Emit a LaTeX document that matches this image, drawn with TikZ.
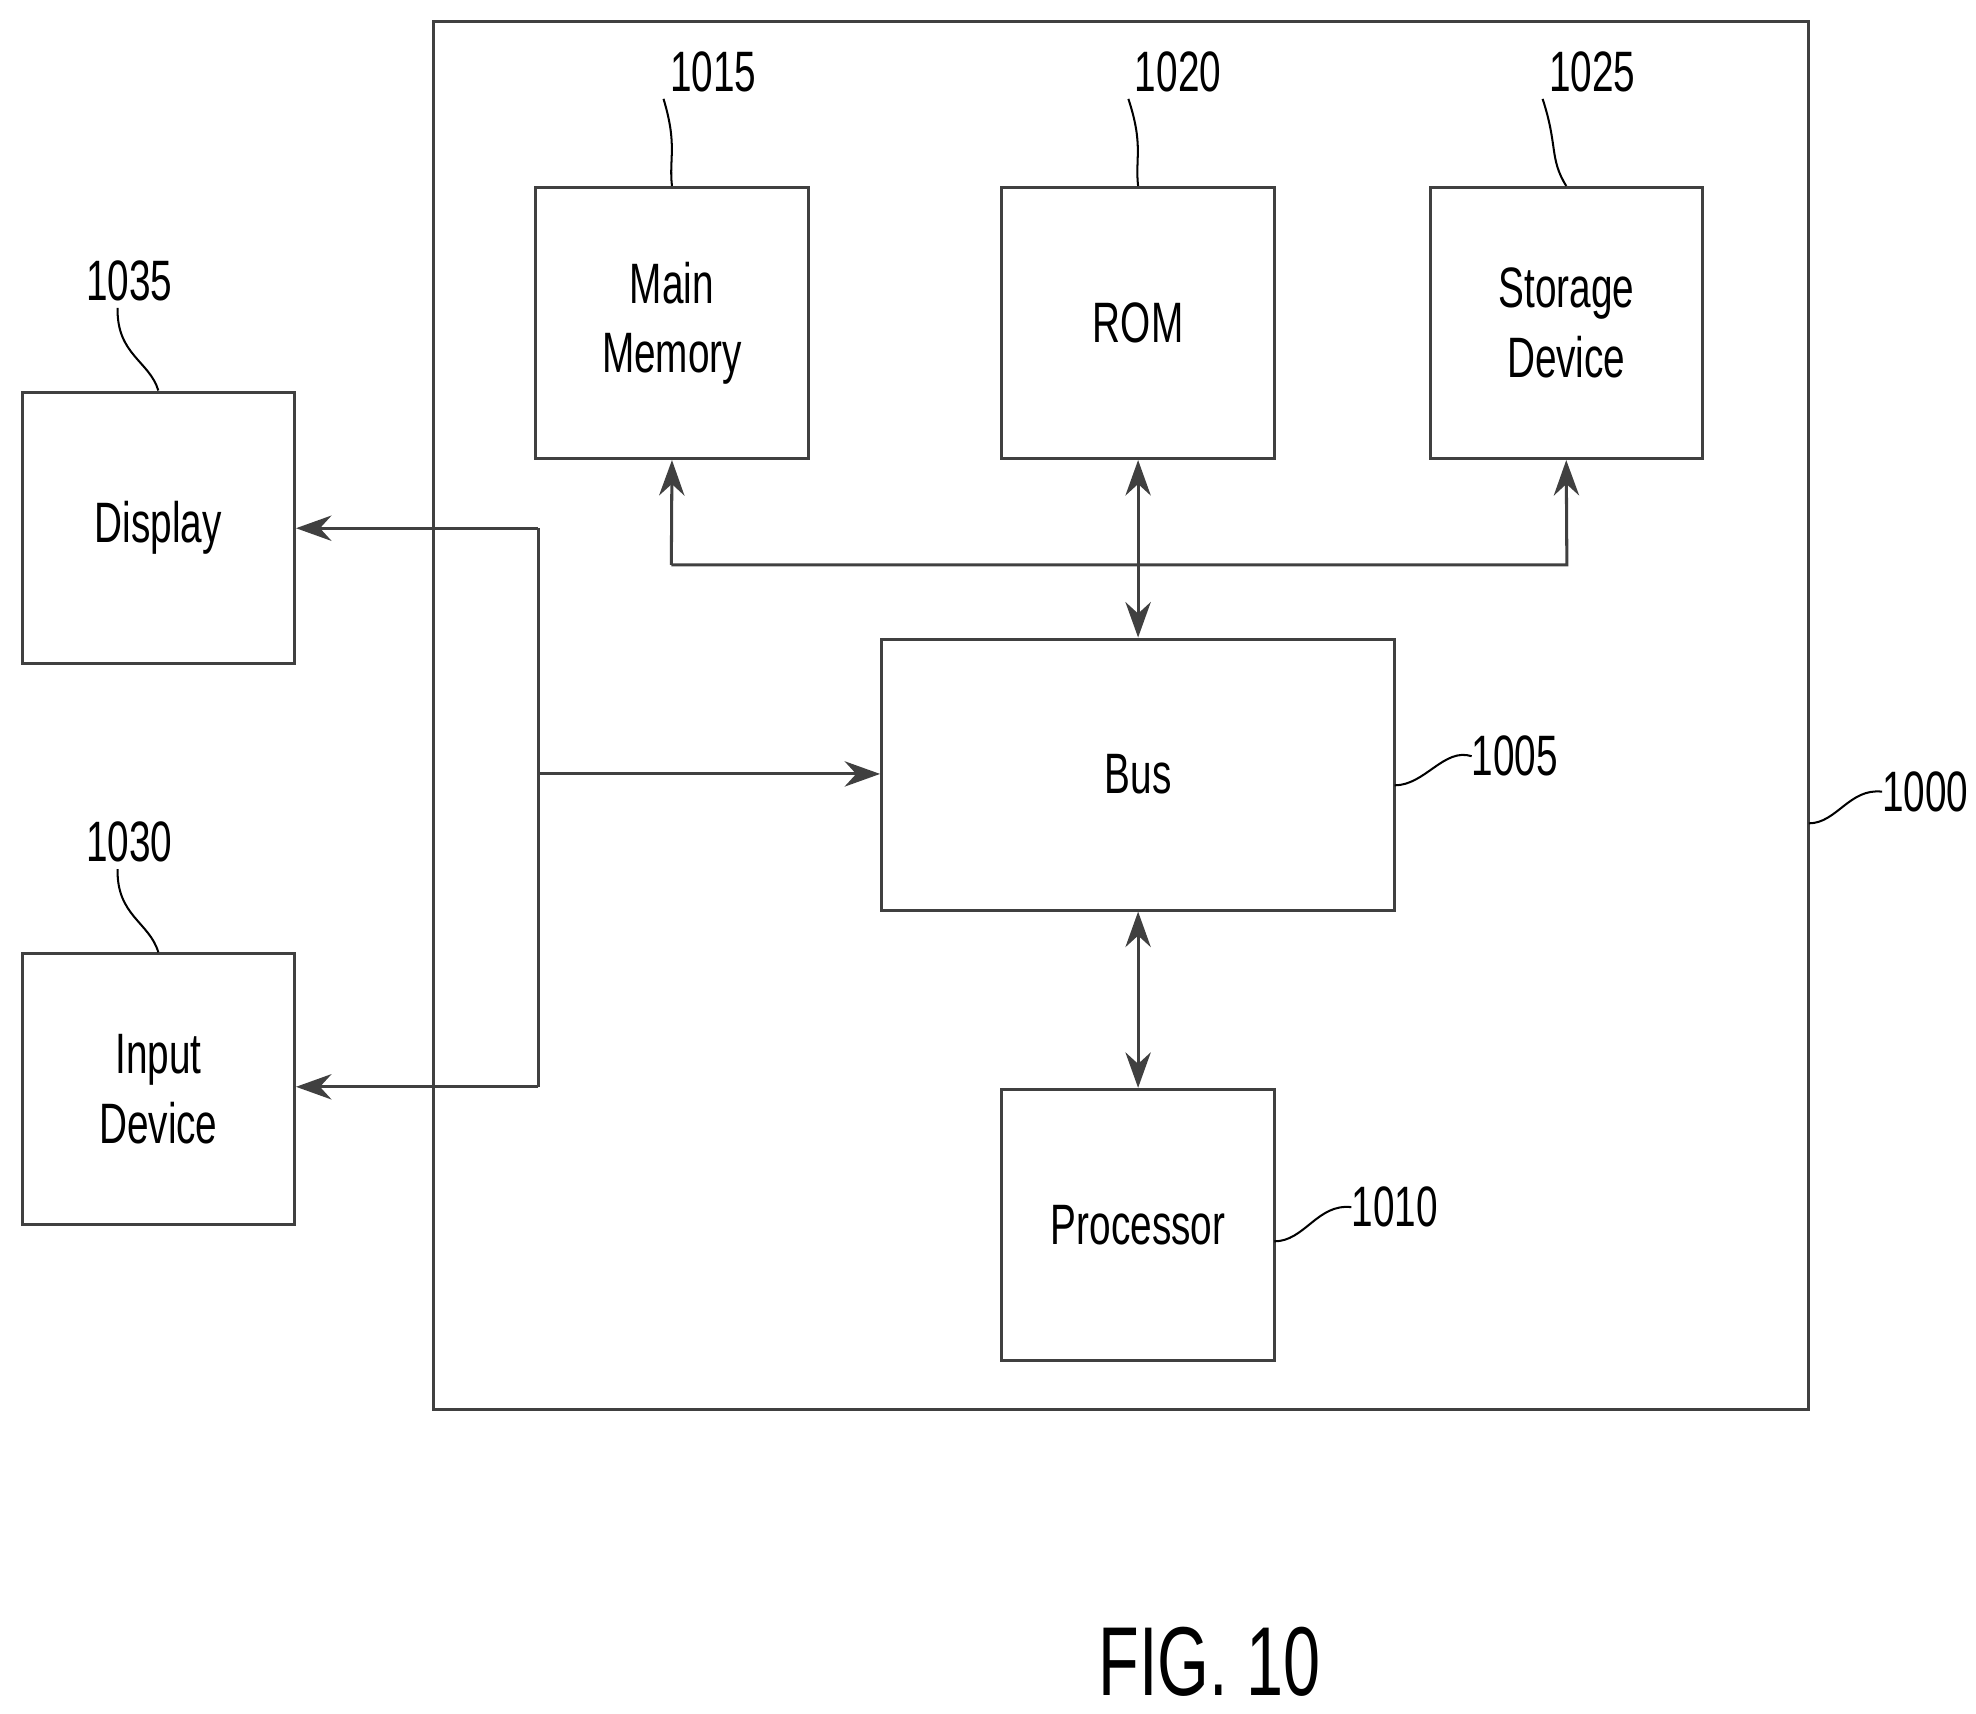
\documentclass[tikz,border=0pt]{standalone}
\usepackage{fontspec}
\setmainfont[FakeStretch=0.68]{Liberation Sans}
\usetikzlibrary{arrows.meta}
\begin{document}
\begin{tikzpicture}
        [x=0.5mm,y=-0.5mm,
         box_style/.style={draw=black!75,line width=1.2mm,minimum width=107.5mm,minimum height=107mm,
                           align=center,font=\fontsize{64}{78}\selectfont,inner sep=0pt},
         ref_style/.style={font=\fontsize{64}{78}\selectfont,inner sep=0pt},
         edge_style/.style={draw=black!75,line width=1.2mm},
         arrow_style/.style={edge_style,-{Stealth[length=14mm,width=10mm]}},
         both_style/.style={edge_style,{Stealth[length=14mm,width=10mm]}-{Stealth[length=14mm,width=10mm]}},
         lead_style/.style={draw=black,line width=0.8mm}]
            \useasboundingbox (0,0) rectangle (1560,1353);
            \draw[edge_style] (342,17) rectangle (1428,1113);
            \node[box_style] (mem) at (530.5,255)  {Main\\Memory};
            \node[box_style] (rom) at (898.5,255)  {ROM};
            \node[box_style] (sto) at (1236.5,255) {Storage\\Device};
            \node[box_style,minimum width=202.5mm] (bus) at (898.5,611.5) {Bus};
            \node[box_style] (cpu) at (898.5,967)  {Processor};
            \node[box_style] (dsp) at (125,416.5)  {Display};
            \node[box_style] (inp) at (125,860)    {Input\\Device};
            \coordinate (j1) at (530,446);
            \coordinate (j2) at (1237,446);
            \coordinate (l1) at (425,417);
            \coordinate (l2) at (425,858);
            \coordinate (l3) at (425,611);
            \draw[arrow_style] (j1) -- (mem.south);
            \draw[arrow_style] (j1) -- (j2) -- (sto.south);
            \draw[both_style]  (rom) -- (bus);
            \draw[both_style]  (bus) -- (cpu);
            \draw[edge_style]  (l1) -- (l2);
            \draw[arrow_style] (l1) -- (dsp.east |- l1);
            \draw[arrow_style] (l2) -- (inp.east |- l2);
            \draw[arrow_style] (l3) -- (bus.west |- l3);
            % reference numerals
            \node[ref_style] (n1015) at (563,57)   {1015};
            \node[ref_style] (n1020) at (930,57)   {1020};
            \node[ref_style] (n1025) at (1257,57)  {1025};
            \node[ref_style] (n1035) at (102,222)  {1035};
            \node[ref_style] (n1030) at (102,665)  {1030};
            \node[ref_style] (n1005) at (1196,597) {1005};
            \node[ref_style] (n1010) at (1101,953) {1010};
            \node[ref_style] (n1000) at (1520,625) {1000};
            \draw[lead_style] (n1015.south west) ++(-5,5) .. controls (535,115) and (528,125) .. (mem.north);
            \draw[lead_style] (n1020.south west) ++(-5,5) .. controls (903,115) and (896,125) .. (rom.north);
            \draw[lead_style] (n1025.south west) ++(-5,5) .. controls (1230,115) and (1223,125) .. (sto.north);
            \draw[lead_style] (n1035.south west) ++(25,5) .. controls (92,280) and (118,285) .. (dsp.north);
            \draw[lead_style] (n1030.south west) ++(25,5) .. controls (92,723) and (118,728) .. (inp.north);
            \draw[lead_style] (n1005.west) .. controls (1140,590) and (1125,620) .. (1101,620);
            \draw[lead_style] (n1010.west) .. controls (1040,950) and (1030,980) .. (1006,980);
            \draw[lead_style] (n1000.west) .. controls (1460,622) and (1450,650) .. (1428,650);
            \node[font=\fontsize{110}{130}\selectfont] (fig) at (955,1312) {FIG. 10};
        \end{tikzpicture}
\end{document}
